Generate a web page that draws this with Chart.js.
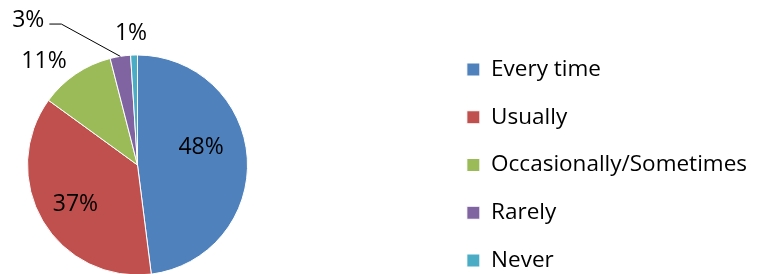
<!DOCTYPE html>
<html>
<head>
<meta charset="utf-8">
<script src="https://cdn.jsdelivr.net/npm/chart.js@4.4.0/dist/chart.umd.min.js"></script>
<style>
  html, body { margin: 0; padding: 0; background: #fff; }
</style>
</head>
<body>
<canvas id="mainChart" width="757" height="274"></canvas>
<script>
const answers = ["Every time", "Usually", "Occasionally/Sometimes", "Rarely", "Never"];
const shares = [48, 37, 11, 3, 1];
const sliceColors = ["#4F81BD", "#C0504D", "#9BBB59", "#8064A2", "#4BACC6"];

// keep the pie in its own square on the left, away from the legend
const pieBox = {
  id: "pieBox",
  afterLayout(chart, args, opts) {
    const a = chart.chartArea;
    a.left = opts.left;
    a.top = opts.top;
    a.right = opts.left + opts.size;
    a.bottom = opts.top + opts.size;
    a.width = opts.size;
    a.height = opts.size;
  }
};

// draws "NN%" next to every slice, with a leader line where asked
const pctLabels = {
  id: "pctLabels",
  afterDatasetsDraw(chart, args, opts) {
    const ctx = chart.ctx;
    const values = chart.data.datasets[0].data;
    ctx.save();
    ctx.font = opts.font;
    ctx.fillStyle = "#000";
    ctx.textAlign = "center";
    ctx.textBaseline = "middle";
    chart.getDatasetMeta(0).data.forEach((arc, i) => {
      const p = arc.getProps(["x", "y", "startAngle", "endAngle", "outerRadius"], true);
      const spot = opts.spots[i];
      const mid = (p.startAngle + p.endAngle) / 2;
      const a = mid + spot.turn * Math.PI / 180;
      const tx = p.x + Math.cos(a) * p.outerRadius * spot.r;
      const ty = p.y + Math.sin(a) * p.outerRadius * spot.r;
      const text = values[i] + "%";
      ctx.fillText(text, tx, ty);
      if (spot.leader) {
        const ex = tx + ctx.measureText(text).width / 2 + 5;
        const ey = ty + 4;
        ctx.beginPath();
        ctx.moveTo(p.x + Math.cos(mid) * p.outerRadius, p.y + Math.sin(mid) * p.outerRadius);
        ctx.lineTo(ex + 12, ey);
        ctx.lineTo(ex, ey);
        ctx.strokeStyle = "#000";
        ctx.lineWidth = 1;
        ctx.stroke();
      }
    });
    ctx.restore();
  }
};

new Chart(document.getElementById("mainChart"), {
  type: "pie",
  data: {
    labels: answers,
    datasets: [{
      data: shares,
      backgroundColor: sliceColors,
      borderColor: "#ffffff",
      borderWidth: 1,
      radius: 110
    }]
  },
  options: {
    responsive: false,
    animation: false,
    layout: {
      padding: { left: -166, right: 0, top: 0, bottom: -56 }
    },
    plugins: {
      tooltip: { enabled: false },
      legend: {
        position: "right",
        labels: {
          color: "#000",
          font: { family: "'Open Sans'", size: 22.5 },
          boxWidth: 13,
          boxHeight: 13,
          padding: 25.25
        }
      },
      pieBox: { left: 27.5, top: 55, size: 220 },
      pctLabels: {
        font: "23px 'Open Sans'",
        spots: [
          { r: 0.6, turn: -12 },
          { r: 0.67, turn: -2 },
          { r: 1.265, turn: -8 },
          { r: 1.65, turn: -28, leader: true },
          { r: 1.2, turn: -1 }
        ]
      }
    }
  },
  plugins: [pieBox, pctLabels]
});
</script>
</body>
</html>
